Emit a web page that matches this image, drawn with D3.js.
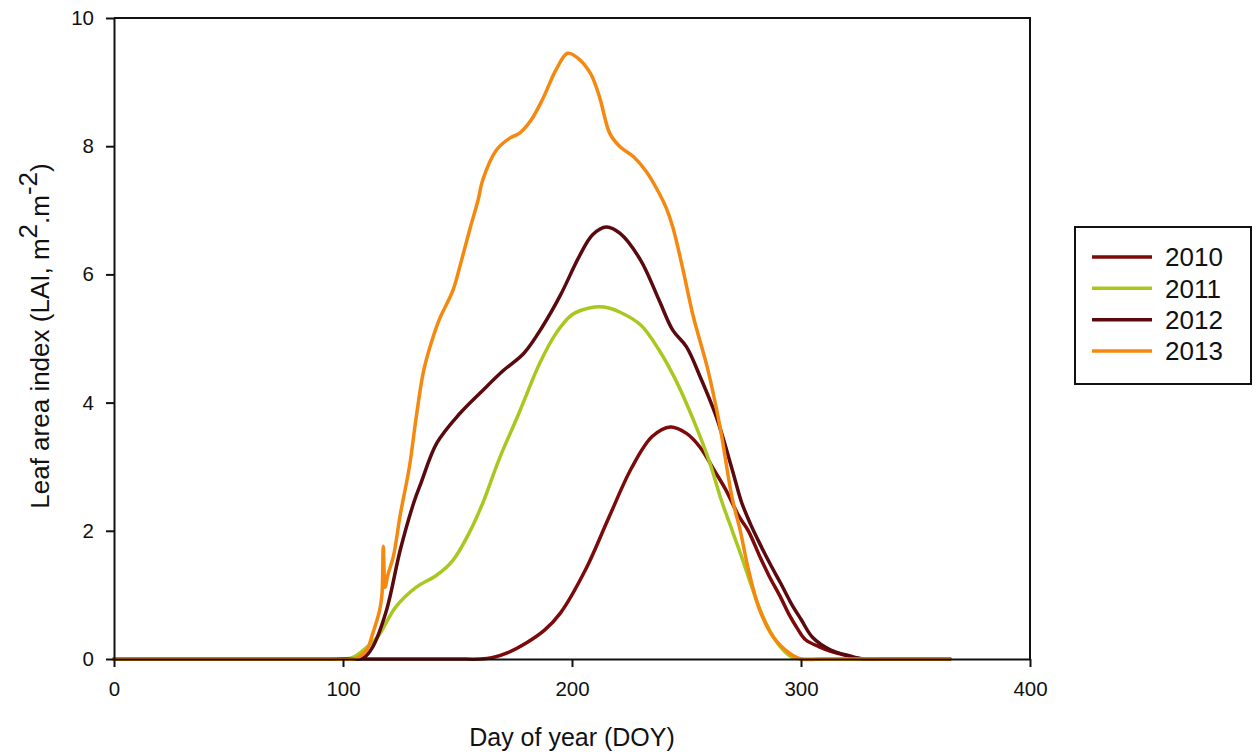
<!DOCTYPE html>
<html>
<head>
<meta charset="utf-8">
<script src="https://cdn.jsdelivr.net/npm/d3@7"></script>
<style>
  html, body { margin: 0; padding: 0; background: #fff; }
  svg { display: block; font-family: "Liberation Sans", Arial, sans-serif; }
</style>
</head>
<body>
<svg id="chart" width="1256" height="754"></svg>
<script>
// Leaf area index over the day of year, one smoothed curve per season
const years = ["2010", "2011", "2012", "2013"];
const colors = ["#7d0a0a", "#a9c81f", "#5a0a0e", "#f5880f"];

const doy2010 = [0, 50, 100, 140, 150, 160, 165, 172, 180, 188, 195, 206, 216, 226, 235, 243, 250, 256, 262, 267, 273, 277, 282, 286, 291, 295, 298, 302, 308, 313, 317, 322, 326, 335, 345, 365];
const lai2010 = [0, 0, 0, 0, 0, 0, 0.02, 0.1, 0.25, 0.45, 0.72, 1.4, 2.2, 2.98, 3.47, 3.62, 3.52, 3.3, 2.95, 2.65, 2.22, 2.0, 1.6, 1.3, 0.97, 0.68, 0.5, 0.3, 0.19, 0.12, 0.08, 0.03, 0, 0, 0, 0];

const doy2011 = [0, 50, 80, 90, 100, 104, 109, 115, 123, 132, 141, 148, 155, 161, 168, 177, 186, 193, 200, 208, 214, 221, 230, 238, 246, 253, 260, 265, 270, 274, 278, 282, 287, 291, 296, 300, 310, 320, 365];
const lai2011 = [0, 0, 0, 0, 0, 0.02, 0.14, 0.34, 0.81, 1.12, 1.31, 1.54, 1.96, 2.43, 3.1, 3.85, 4.62, 5.08, 5.37, 5.48, 5.49, 5.41, 5.21, 4.82, 4.3, 3.73, 3.08, 2.5, 2.0, 1.6, 1.18, 0.78, 0.4, 0.19, 0.03, 0, 0, 0, 0];

const doy2012 = [0, 50, 90, 100, 106, 109, 113, 119, 125, 131, 134, 141, 151, 161, 170, 179, 187, 195, 203, 209, 215, 221, 230, 238, 244, 250, 256, 263, 270, 274, 278, 282, 287, 291, 296, 300, 305, 313, 321, 327, 335, 345, 365];
const lai2012 = [0, 0, 0, 0, 0, 0.02, 0.19, 0.76, 1.7, 2.45, 2.74, 3.37, 3.83, 4.19, 4.5, 4.77, 5.18, 5.68, 6.27, 6.62, 6.74, 6.64, 6.22, 5.6, 5.13, 4.87, 4.4, 3.78, 2.95, 2.45, 2.1, 1.8, 1.45, 1.19, 0.85, 0.62, 0.34, 0.14, 0.05, 0, 0, 0, 0];

const doy2013 = [0, 50, 85, 95, 105, 107, 110.4, 113, 116, 117, 117.6, 118.4, 119.5, 122, 125, 129, 132, 135, 138, 142, 148, 151, 155.5, 159, 161, 167, 173, 177, 182, 187, 193, 198, 202, 208, 212, 216.5, 221, 227, 232.5, 238, 241, 244, 248, 253, 259, 264.6, 270, 273.5, 277, 282, 288, 295, 300, 310, 320, 365];
const lai2013 = [0, 0, 0, 0, 0, 0.03, 0.14, 0.4, 0.76, 1.0, 1.76, 1.12, 1.3, 1.6, 2.25, 3.0, 3.78, 4.46, 4.87, 5.29, 5.75, 6.12, 6.72, 7.16, 7.47, 7.94, 8.13, 8.2, 8.4, 8.72, 9.19, 9.45, 9.39, 9.14, 8.77, 8.2, 7.99, 7.83, 7.6, 7.27, 7.05, 6.74, 6.15, 5.34, 4.56, 3.63, 2.5, 2.0, 1.4, 0.76, 0.34, 0.09, 0, 0, 0, 0];

const xTicks = [0, 100, 200, 300, 400];
const yTicks = [0, 2, 4, 6, 8, 10];

const series = [
  { year: years[0], doy: doy2010, lai: lai2010, color: colors[0] },
  { year: years[1], doy: doy2011, lai: lai2011, color: colors[1] },
  { year: years[2], doy: doy2012, lai: lai2012, color: colors[2] },
  { year: years[3], doy: doy2013, lai: lai2013, color: colors[3] }
];

const svg = d3.select("#chart");
const plot = { left: 114, right: 1030, top: 18, bottom: 659 };

const x = d3.scaleLinear().domain([0, 400]).range([plot.left, plot.right]);
const y = d3.scaleLinear().domain([0, 10]).range([plot.bottom, plot.top]);

// curves (values never drop below zero)
const line = d3.line()
  .x(d => x(d[0]))
  .y(d => Math.min(y(d[1]), plot.bottom))
  .curve(d3.curveCatmullRom.alpha(0.5));

svg.append("g").selectAll("path")
  .data(series)
  .join("path")
  .attr("d", s => line(s.doy.map((d, i) => [d, s.lai[i]])))
  .attr("fill", "none")
  .attr("stroke", s => s.color)
  .attr("stroke-width", 3.5)
  .attr("stroke-linejoin", "round")
  .attr("stroke-linecap", "round");

// frame on top and right
svg.append("path")
  .attr("d", `M${x(0)},${y(10)}H${x(400)}V${y(0)}`)
  .attr("fill", "none")
  .attr("stroke", "#111")
  .attr("stroke-width", 2);

// axes
const xAxis = svg.append("g")
  .attr("transform", `translate(0,${plot.bottom})`)
  .call(d3.axisBottom(x).tickValues(xTicks).tickFormat(d3.format("d"))
    .tickSize(8).tickSizeOuter(0).tickPadding(14));

const yAxis = svg.append("g")
  .attr("transform", `translate(${plot.left},0)`)
  .call(d3.axisLeft(y).tickValues(yTicks).tickFormat(d3.format("d"))
    .tickSize(8).tickSizeOuter(0).tickPadding(12));

[xAxis, yAxis].forEach(g => {
  g.select(".domain").attr("stroke", "#111").attr("stroke-width", 2);
  g.selectAll(".tick line").attr("stroke", "#111").attr("stroke-width", 2);
  g.selectAll(".tick text")
    .attr("fill", "#111")
    .style("font-size", "20.5px")
    .style("font-family", "'Liberation Sans', Arial, sans-serif");
});

// axis titles
svg.append("text")
  .attr("x", (plot.left + plot.right) / 2)
  .attr("y", 746)
  .attr("text-anchor", "middle")
  .attr("fill", "#111")
  .style("font-size", "25px")
  .text("Day of year (DOY)");

const yTitle = svg.append("text")
  .attr("transform", "translate(49,336) rotate(-90)")
  .attr("text-anchor", "middle")
  .attr("fill", "#111")
  .style("font-size", "26px");
yTitle.append("tspan").text("Leaf area index (LAI, m");
yTitle.append("tspan").attr("dy", -12).text("2");
yTitle.append("tspan").attr("dy", 12).text(".m");
yTitle.append("tspan").attr("dy", -12).text("-2");
yTitle.append("tspan").attr("dy", 12).text(")");

// legend
const legend = svg.append("g");
legend.append("rect")
  .attr("x", 1075).attr("y", 227)
  .attr("width", 176).attr("height", 157)
  .attr("fill", "#fff")
  .attr("stroke", "#111")
  .attr("stroke-width", 2);

const legendRow = d3.scalePoint().domain(years).range([257, 351]);

const items = legend.selectAll("g.item")
  .data(series)
  .join("g")
  .attr("class", "item")
  .attr("transform", s => `translate(0,${legendRow(s.year)})`);

items.append("line")
  .attr("x1", 1092).attr("x2", 1152)
  .attr("stroke", s => s.color)
  .attr("stroke-width", 3.5);

items.append("text")
  .attr("x", 1165)
  .attr("dy", "0.36em")
  .attr("fill", "#111")
  .style("font-size", "26px")
  .text(s => s.year);
</script>
</body>
</html>
